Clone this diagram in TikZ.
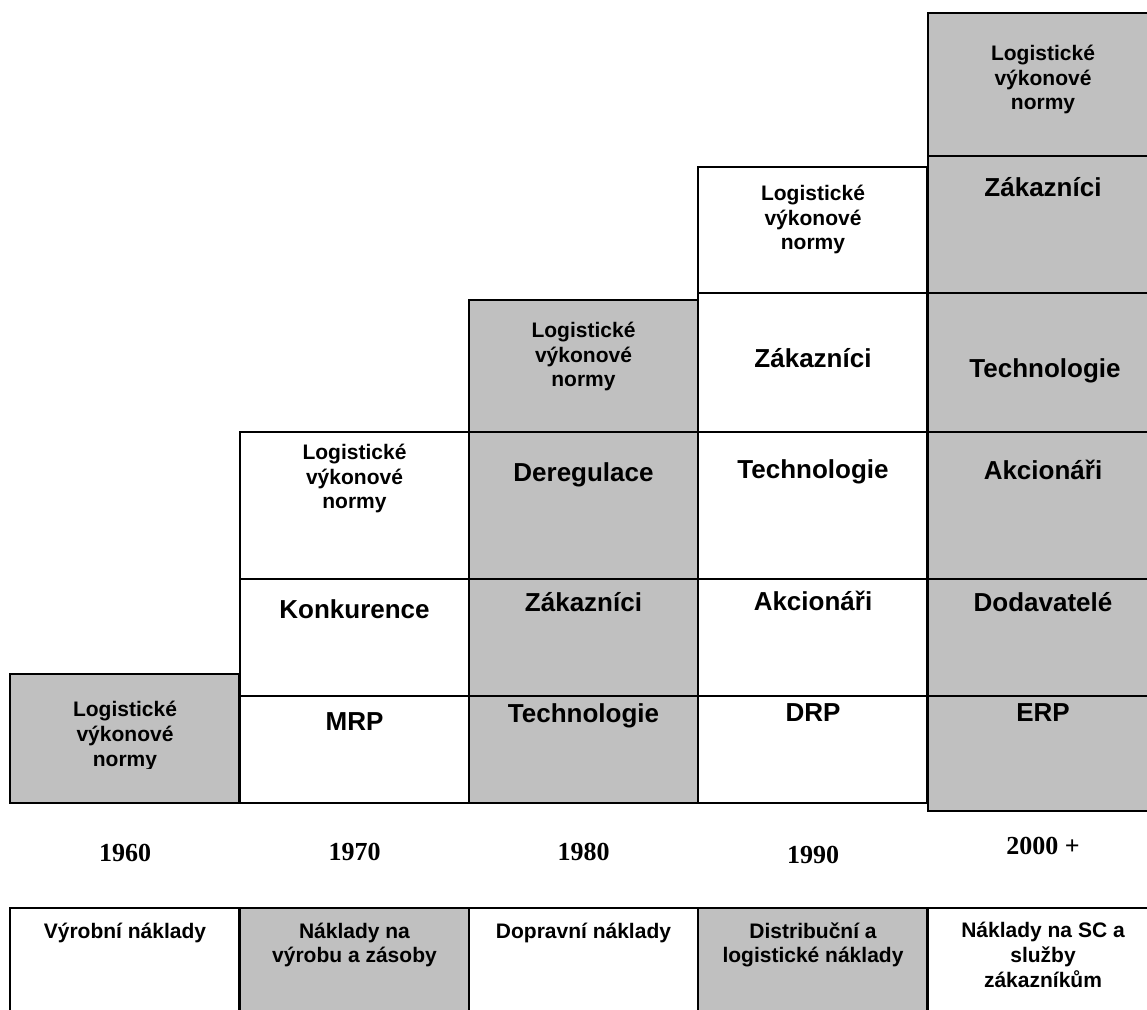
\documentclass[tikz,border=0pt]{standalone}
\usepackage{fontspec}
\setmainfont{Liberation Sans}
\newfontfamily\yearfont{Liberation Serif}
\usepackage{xcolor}
\usetikzlibrary{positioning}
\definecolor{cellgrey}{RGB}{192,192,192}

\begin{document}
\begin{tikzpicture}[x=0.5pt, y=-0.5pt,
cell/.style={draw, line width=1pt, anchor=north west, inner sep=0pt, outer sep=0pt, minimum width=114.5pt},
greycell/.style={cell, fill=cellgrey},
whitecell/.style={cell, fill=white},
bigtxt/.style={anchor=base, font=\fontsize{13}{15}\selectfont\bfseries},
smalltxt/.style={anchor=base, align=center, font=\fontsize{10.5}{12.3}\selectfont\bfseries},
yeartxt/.style={anchor=base, font=\fontsize{13}{15}\selectfont\yearfont\bfseries},]
\useasboundingbox (0,0) rectangle (1147,1010);
\node[greycell, minimum height=64.5pt] (c1) at (10,674) {};
\node[whitecell, minimum height=73.5pt] (c2a) at (240,432) {};
\node[whitecell, minimum height=58.5pt, below=0pt of c2a] (c2b) {};
\node[whitecell, minimum height=53.5pt, below=0pt of c2b] (c2c) {};
\node[greycell, minimum height=66pt] (c3a) at (469,300) {};
\node[greycell, minimum height=73.5pt, below=0pt of c3a] (c3b) {};
\node[greycell, minimum height=58.5pt, below=0pt of c3b] (c3c) {};
\node[greycell, minimum height=53.5pt, below=0pt of c3c] (c3d) {};
\node[whitecell, minimum height=63pt] (c4a) at (698,167) {};
\node[whitecell, minimum height=69.5pt, below=0pt of c4a] (c4b) {};
\node[whitecell, minimum height=73.5pt, below=0pt of c4b] (c4c) {};
\node[whitecell, minimum height=58.5pt, below=0pt of c4c] (c4d) {};
\node[whitecell, minimum height=53.5pt, below=0pt of c4d] (c4e) {};
\node[greycell, minimum height=71.5pt] (c5a) at (928,13) {};
\node[greycell, minimum height=68.5pt, below=0pt of c5a] (c5b) {};
\node[greycell, minimum height=69.5pt, below=0pt of c5b] (c5c) {};
\node[greycell, minimum height=73.5pt, below=0pt of c5c] (c5d) {};
\node[greycell, minimum height=58.5pt, below=0pt of c5d] (c5e) {};
\node[greycell, minimum height=57.5pt, below=0pt of c5e] (c5f) {};
\node[whitecell, minimum height=56pt] (b1) at (10,908) {};
\node[greycell, minimum height=56pt] (b2) at (240,908) {};
\node[whitecell, minimum height=56pt] (b3) at (469,908) {};
\node[greycell, minimum height=56pt] (b4) at (698,908) {};
\node[whitecell, minimum height=56pt] (b5) at (928,908) {};
\begin{scope}
\clip (c1.north west) rectangle (240,768);
\node[smalltxt] (t1) at (125,766) {Logistické\\výkonové\\normy};
\end{scope}
\node[smalltxt] (t2a) at (354.5,509) {Logistické\\výkonové\\normy};
\node[bigtxt] (t2b) at (354.5,618) {Konkurence};
\node[bigtxt] (t2c) at (354.5,731) {MRP};
\node[smalltxt] (t3a) at (583.5,387) {Logistické\\výkonové\\normy};
\node[bigtxt] (t3b) at (583.5,482) {Deregulace};
\node[bigtxt] (t3c) at (583.5,612) {Zákazníci};
\node[bigtxt] (t3d) at (583.5,722) {Technologie};
\node[smalltxt] (t4a) at (813,250) {Logistické\\výkonové\\normy};
\node[bigtxt] (t4b) at (813,368) {Zákazníci};
\node[bigtxt] (t4c) at (813,479) {Technologie};
\node[bigtxt] (t4d) at (813,611) {Akcionáři};
\node[bigtxt] (t4e) at (813,721) {DRP};
\node[smalltxt] (t5a) at (1043,110) {Logistické\\výkonové\\normy};
\node[bigtxt] (t5b) at (1043,197) {Zákazníci};
\node[bigtxt] (t5c) at (1045,378) {Technologie};
\node[bigtxt] (t5d) at (1043,480) {Akcionáři};
\node[bigtxt] (t5e) at (1043,612) {Dodavatelé};
\node[bigtxt] (t5f) at (1043,721) {ERP};
\node[yeartxt] (y1) at (125,861) {1960};
\node[yeartxt] (y2) at (354.5,860) {1970};
\node[yeartxt] (y3) at (583.5,860) {1980};
\node[yeartxt] (y4) at (813,863) {1990};
\node[yeartxt] (y5) at (1043,854) {2000 +};
\node[smalltxt] (n1) at (125,938) {Výrobní náklady};
\node[smalltxt] (n2) at (354.5,962.6) {Náklady na\\výrobu a zásoby};
\node[smalltxt] (n3) at (583.5,938) {Dopravní náklady};
\node[smalltxt] (n4) at (813,962.6) {Distribuční a\\logistické náklady};
\node[smalltxt] (n5) at (1043,987) {Náklady na SC a\\služby\\zákazníkům};
\end{tikzpicture}
\end{document}
